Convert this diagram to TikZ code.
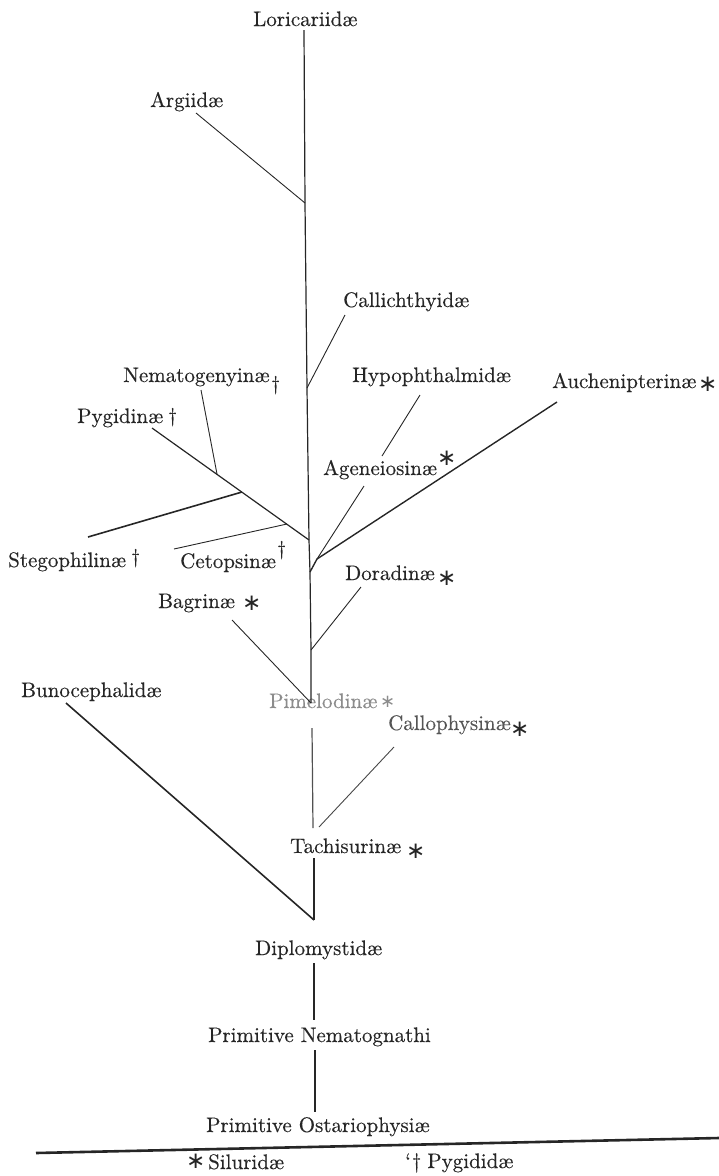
\documentclass[tikz,border=0pt]{standalone}
\usepackage{fontspec}
\newfontfamily\symfam{DejaVu Sans}
\newfontfamily\inkfam{lmroman10-regular.otf}[FakeBold=0.35]
\definecolor{ink}{HTML}{262626}
\definecolor{faded}{HTML}{8C8C8C}
\definecolor{midgrey}{HTML}{555555}
\begin{document}
\begin{tikzpicture}[x=1pt,y=-1pt,
  lbl/.style={inner sep=0pt,anchor=base west,text=ink,font=\inkfam\fontsize{21}{24}\selectfont},
  sym/.style={inner sep=0pt,anchor=base west,text=ink,font=\symfam\fontsize{23}{23}\selectfont},
  dag/.style={inner sep=0pt,anchor=base west,text=ink,font=\inkfam\fontsize{20}{22}\selectfont},
  trunk/.style={draw=ink,line width=1.2pt},
  twig/.style={draw=ink,line width=0.9pt},
  bough/.style={draw=ink,line width=1.6pt},
  baserule/.style={draw=ink,line width=2.6pt}]
\useasboundingbox (0,0) rectangle (719,1176);

% ---------- labels ----------
\node[lbl] (lor) at (253,26) {Loricariidæ};
\node[lbl] (arg) at (150,107) {Argiidæ};
\node[lbl] (cal) at (343,307) {Callichthyidæ};
\node[lbl] (nem) at (123,382) {Nematogenyinæ};
\node[dag] (nemS) at (271,390) {†};
\node[lbl] (pyg) at (77,423) {Pygidinæ};
\node[dag] (pygS) at (168,422) {†};
\node[lbl] (hyp) at (352,382) {Hypophthalmidæ};
\node[lbl] (auc) at (552,388) {Auchenipterinæ};
\node[sym] (aucS) at (698,391) {∗};
\node[lbl] (age) at (323,475) {Ageneiosinæ};
\node[sym] (ageS) at (437,465) {∗};
\node[lbl] (stg) at (8,567) {Stegophilinæ};
\node[dag] (stgS) at (131,563) {†};
\node[lbl] (cet) at (180,568) {Cetopsinæ};
\node[dag] (cetS) at (277,555) {†};
\node[lbl] (dor) at (345,580) {Doradinæ};
\node[sym] (dorS) at (437,585) {∗};
\node[lbl] (bag) at (158,608) {Bagrinæ};
\node[sym] (bagS) at (242,610) {∗};
\node[lbl] (bun) at (21,697) {Bunocephalidæ};
\node[lbl,text=faded] (pim) at (269,708) {Pimelodinæ};
\node[sym,text=faded,font=\symfam\fontsize{18}{18}\selectfont] (pimS) at (380,707) {∗};
\node[lbl,text=midgrey] (cph) at (388,730) {Callophysinæ};
\node[sym] (cphS) at (510,736) {∗};
\node[lbl] (tac) at (290,853) {Tachisurinæ};
\node[sym] (tacS) at (406,858) {∗};
\node[lbl] (dip) at (255,955) {Diplomystidæ};
\node[lbl] (pne) at (208,1042) {Primitive Nematognathi};
\node[lbl] (pos) at (206,1132) {Primitive Ostariophysiæ};
\node[sym] (legS) at (186,1168) {∗};
\node[lbl] (legA) at (208,1169) {Siluridæ};
\node[lbl] (legB) at (405,1168) {\textquoteleft\kern1pt†\kern6pt Pygididæ};

% ---------- coordinates ----------
\coordinate (t0) at (304,30);
\coordinate (jArg) at (305,203);
\coordinate (jCal) at (307,388);
\coordinate (jPyg) at (309,540);
\coordinate (jAucT) at (310,572);
\coordinate (jDor) at (311,650);
\coordinate (jBag) at (311,703);
\coordinate (p1) at (312,728);
\coordinate (p2) at (313,828);
\coordinate (q1) at (314,858);
\coordinate (jBun) at (314,920);
\coordinate (d1) at (314,963);
\coordinate (d2) at (314,1020);
\coordinate (n1) at (315,1050);
\coordinate (n2) at (315,1112);

\coordinate (argE) at (196,113);
\coordinate (calE) at (345,315);
\coordinate (pygE) at (152,428);
\coordinate (nemE) at (201,390);
\coordinate (nemJ) at (217,474);
\coordinate (stgE) at (88,537);
\coordinate (stgJ) at (242,492);
\coordinate (cetE) at (174,549);
\coordinate (cetJ) at (287,524);
\coordinate (hypE) at (420,395);
\coordinate (hypJ) at (382,456);
\coordinate (ageE) at (364,486);
\coordinate (aucE) at (557,402);
\coordinate (jA) at (317,559);
\coordinate (dorE) at (361,587);
\coordinate (bagE) at (232,620);
\coordinate (bunE) at (66,703);
\coordinate (cphE) at (394,747);
\coordinate (cphJ) at (319,827);
\coordinate (r1) at (36,1153);
\coordinate (r2) at (719,1138);

% ---------- trunk ----------
\draw[trunk] (t0) -- (jArg) -- (jCal) -- (jPyg) -- (jAucT) -- (jDor) -- (jBag);
\draw[trunk,draw=ink!80] (p1) -- (p2);
\draw[trunk] (q1) -- (jBun);
\draw[trunk] (d1) -- (d2);
\draw[trunk] (n1) -- (n2);

% ---------- branches ----------
\draw[twig] (argE) -- (jArg);
\draw[twig] (calE) -- (jCal);
\draw[trunk] (pygE) -- (jPyg);
\draw[twig] (nemE) -- (nemJ);
\draw[bough] (stgE) -- (stgJ);
\draw[twig] (cetE) -- (cetJ);
\draw[twig] (hypE) -- (hypJ);
\draw[twig] (ageE) -- (jA);
\draw[trunk,line width=1.4pt] (aucE) -- (jA) -- (jAucT);
\draw[twig] (dorE) -- (jDor);
\draw[twig] (bagE) -- (jBag);
\draw[bough] (bunE) -- (jBun);
\draw[twig,draw=ink!85] (cphE) -- (cphJ);

% ---------- base rule ----------
\draw[baserule] (r1) -- (r2);
\end{tikzpicture}
\end{document}
